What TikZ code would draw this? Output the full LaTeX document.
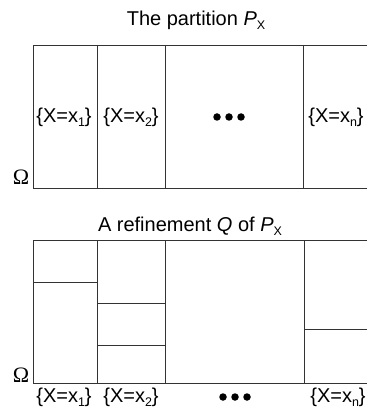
\documentclass[tikz,border=0pt]{standalone}
\usepackage{fontspec}
\setmainfont{Liberation Sans}
\newfontfamily\omegafont{Liberation Serif}
\usepackage{tikz}
\usetikzlibrary{positioning, calc}

\newcommand{\lowsub}[1]{\raisebox{-0.4ex}{\fontsize{12.5}{14}\selectfont #1}}

\begin{document}
\begin{tikzpicture}[
    x=1pt, y=-1pt,
    every node/.style={font=\fontsize{20}{24}\selectfont, inner sep=0pt},
    omega/.style={font=\omegafont\fontsize{22}{24}\selectfont},
    frame/.style={line width=0.8pt, black!80},
    split/.style={line width=0.8pt, black!80},
    dot/.style={circle, fill=black, minimum size=7.5pt, inner sep=0pt},
    ]
    \useasboundingbox (0,0) rectangle (367,411);

    % Top: the partition
    \node (ttop) at (196,20) {The partition \textit{P}\lowsub{X}};
    \draw[frame] (367,45) -- (33,45) -- (33,188) -- (367,188);
    \foreach \xv in {97,165,303} {
        \draw[split] (\xv,45) -- (\xv,188);
    }
    \node[omega] (omtop) at (21,177) {Ω};
    \node (a1) at (64,117) {\{X=x\lowsub{1}\}};
    \node (a2) at (131,117) {\{X=x\lowsub{2}\}};
    \node (an) at (336,117) {\{X=x\lowsub{n}\}};
    \foreach \i/\xv in {1/217,2/229,3/241} {
        \node[dot] (adot\i) at (\xv,117) {};
    }

    % Bottom: a refinement
    \node (tbot) at (190,226) {A refinement \textit{Q} of \textit{P}\lowsub{X}};
    \draw[frame] (367,240) -- (33,240) -- (33,383) -- (367,383);
    \foreach \xv in {97,165,304} {
        \draw[split] (\xv,240) -- (\xv,383);
    }
    % refining cuts
    \draw[split] (33,282) -- (97,282);
    \draw[split] (97,303) -- (165,303);
    \draw[split] (97,345) -- (165,345);
    \draw[split] (304,329) -- (367,329);
    \node[omega] (ombot) at (21,375) {Ω};
    \node (b1) at (64,397) {\{X=x\lowsub{1}\}};
    \node (b2) at (131,397) {\{X=x\lowsub{2}\}};
    \node (bn) at (338,397) {\{X=x\lowsub{n}\}};
    \foreach \i/\xv in {1/223,2/235,3/247} {
        \node[dot] (bdot\i) at (\xv,397) {};
    }
\end{tikzpicture}
\end{document}
